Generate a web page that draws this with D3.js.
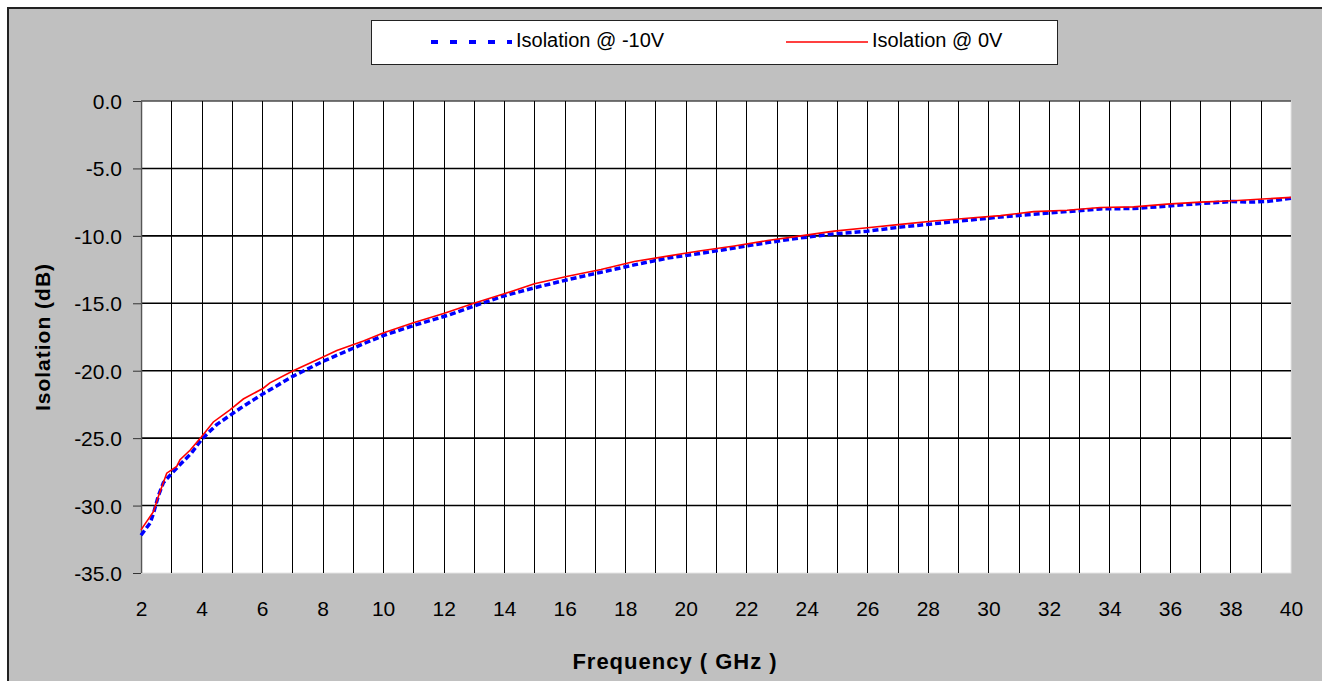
<!DOCTYPE html>
<html><head><meta charset="utf-8">
<script src="https://cdn.jsdelivr.net/npm/d3@7"></script>
<style>body{margin:0;background:#fff;}svg{display:block;font-family:"Liberation Sans",Arial,sans-serif;}</style>
</head><body>
<svg id="c" width="1322" height="681"></svg>
<script>
const xTicks = [2,4,6,8,10,12,14,16,18,20,22,24,26,28,30,32,34,36,38,40];
const yTicks = [0,-5,-10,-15,-20,-25,-30,-35];
const seriesNames = ["Isolation @ -10V","Isolation @ 0V"];
const freqNeg10 = [2.0,2.30,2.41,2.57,2.74,2.90,3.23,3.67,4.0,4.5,5.27,6.04,7.03,8.02,9.35,10.0,11.0,12.2,13.0,14.0,15.0,16.1,17.2,18.3,19.4,20.5,21.6,22.7,23.8,24.9,26.0,27.1,28.2,29.3,30.4,31.5,32.6,33.7,34.8,35.9,37.0,38.1,38.6,39.2,40.0];
const isoNeg10 = [-32.2,-31.3,-30.6,-29.3,-28.3,-27.9,-27.1,-26.1,-25.1,-24.0,-22.8,-21.7,-20.4,-19.3,-18.0,-17.4,-16.65,-15.85,-15.2,-14.45,-13.85,-13.25,-12.7,-12.15,-11.65,-11.3,-10.9,-10.5,-10.15,-9.85,-9.65,-9.35,-9.1,-8.85,-8.6,-8.4,-8.2,-8.0,-7.97,-7.8,-7.6,-7.45,-7.5,-7.45,-7.22];
const freq0 = [2.0,2.41,2.57,2.85,3.18,3.29,3.62,4.0,4.39,4.94,5.38,6.04,6.26,7.03,7.91,8.47,9.35,10.0,11.0,12.0,13.0,14.0,15.0,16.1,17.2,18.3,19.4,20.5,21.6,22.7,23.8,24.9,26.0,27.1,28.2,29.3,30.4,31.5,32.6,33.7,34.8,35.9,37.0,38.1,39.2,40.0];
const iso0 = [-31.8,-30.45,-29.35,-27.6,-27.1,-26.6,-25.9,-24.9,-23.8,-22.9,-22.1,-21.3,-20.9,-20.0,-19.1,-18.5,-17.8,-17.2,-16.45,-15.75,-15.0,-14.3,-13.55,-13.0,-12.5,-11.9,-11.5,-11.1,-10.75,-10.35,-10.0,-9.65,-9.4,-9.15,-8.9,-8.7,-8.5,-8.2,-8.1,-7.9,-7.85,-7.65,-7.5,-7.4,-7.25,-7.15];

const svg = d3.select("#c");
svg.append("rect").attr("x",8).attr("y",8).attr("width",1400).attr("height",700)
  .attr("fill","#c0c0c0").attr("stroke","#222").attr("stroke-width",2);

const L=141,R=1291,T=101,B=573;
const x = d3.scaleLinear().domain([2,40]).range([L,R]);
const y = d3.scaleLinear().domain([-35,0]).range([B,T]);

svg.append("rect").attr("x",L).attr("y",T).attr("width",R-L).attr("height",B-T)
  .attr("fill","#fff").attr("stroke","#e4e4e4").attr("stroke-width",1);

const g = svg.append("g");
g.selectAll("line.v").data(d3.range(3,40)).enter().append("line")
  .attr("x1",d=>Math.round(x(d))+0.5).attr("x2",d=>Math.round(x(d))+0.5)
  .attr("y1",T).attr("y2",B).attr("stroke","#000").attr("stroke-width",1);
g.selectAll("line.h").data(yTicks.filter(d=>d>-35)).enter().append("line")
  .attr("x1",L).attr("x2",R).attr("y1",d=>y(d)).attr("y2",d=>y(d))
  .attr("stroke","#000").attr("stroke-width",d=>d===0?1:1.6);
svg.append("line").attr("x1",L+0.5).attr("x2",L+0.5).attr("y1",T).attr("y2",B).attr("stroke","#555").attr("stroke-width",1.5);

const fmtY = d => d3.format(".1f")(d).replace("\u2212","-");
const yAxis = d3.axisLeft(y).tickValues(yTicks).tickSize(8).tickSizeOuter(0).tickFormat(fmtY);
const ya = svg.append("g").attr("transform",`translate(${L},0)`).call(yAxis);
ya.select(".domain").remove();
ya.selectAll("line").attr("stroke","#333");
ya.selectAll("text").attr("font-size",21).attr("fill","#000").attr("x",-19).attr("dy","0.36em")
  .attr("font-family","'Liberation Sans',Arial,sans-serif");

const xAxis = d3.axisBottom(x).tickValues(xTicks).tickSize(0).tickFormat(d3.format("d"));
const xa = svg.append("g").attr("transform",`translate(0,${B})`).call(xAxis);
xa.select(".domain").remove();
xa.selectAll("text").attr("font-size",21).attr("fill","#000").attr("y",43).attr("dy",0)
  .attr("font-family","'Liberation Sans',Arial,sans-serif");

svg.append("text").attr("x",675).attr("y",669).attr("text-anchor","middle")
  .attr("font-size",22).attr("font-weight","bold").attr("letter-spacing",1).text("Frequency ( GHz )");
svg.append("text").attr("transform","translate(50,337) rotate(-90)").attr("text-anchor","middle")
  .attr("font-size",21).attr("font-weight","bold").attr("letter-spacing",1).text("Isolation (dB)");

const line = d3.line().x(d=>x(d[0])).y(d=>y(d[1]));
const blueData = freqNeg10.map((f,i)=>[f,isoNeg10[i]]);
const redData = freq0.map((f,i)=>[f,iso0[i]]);
svg.append("path").datum(blueData).attr("d",line).attr("fill","none")
  .attr("stroke","#0000ff").attr("stroke-width",3.5).attr("stroke-dasharray","6,3");
svg.append("path").datum(redData).attr("d",line).attr("fill","none")
  .attr("stroke","#ff0000").attr("stroke-width",1.6);

const lg = svg.append("g");
lg.append("rect").attr("x",371.5).attr("y",20.5).attr("width",686).attr("height",44)
  .attr("fill","#fff").attr("stroke","#222").attr("stroke-width",1);
lg.append("line").attr("x1",431).attr("x2",512).attr("y1",42).attr("y2",42)
  .attr("stroke","#0000ff").attr("stroke-width",4).attr("stroke-dasharray","7,12");
lg.append("text").attr("x",516).attr("y",47).attr("font-size",20).text(seriesNames[0]);
lg.append("line").attr("x1",786).attr("x2",868).attr("y1",42).attr("y2",42)
  .attr("stroke","#ff0000").attr("stroke-width",1.5);
lg.append("text").attr("x",872).attr("y",47).attr("font-size",20).text(seriesNames[1]);
</script>
</body></html>
